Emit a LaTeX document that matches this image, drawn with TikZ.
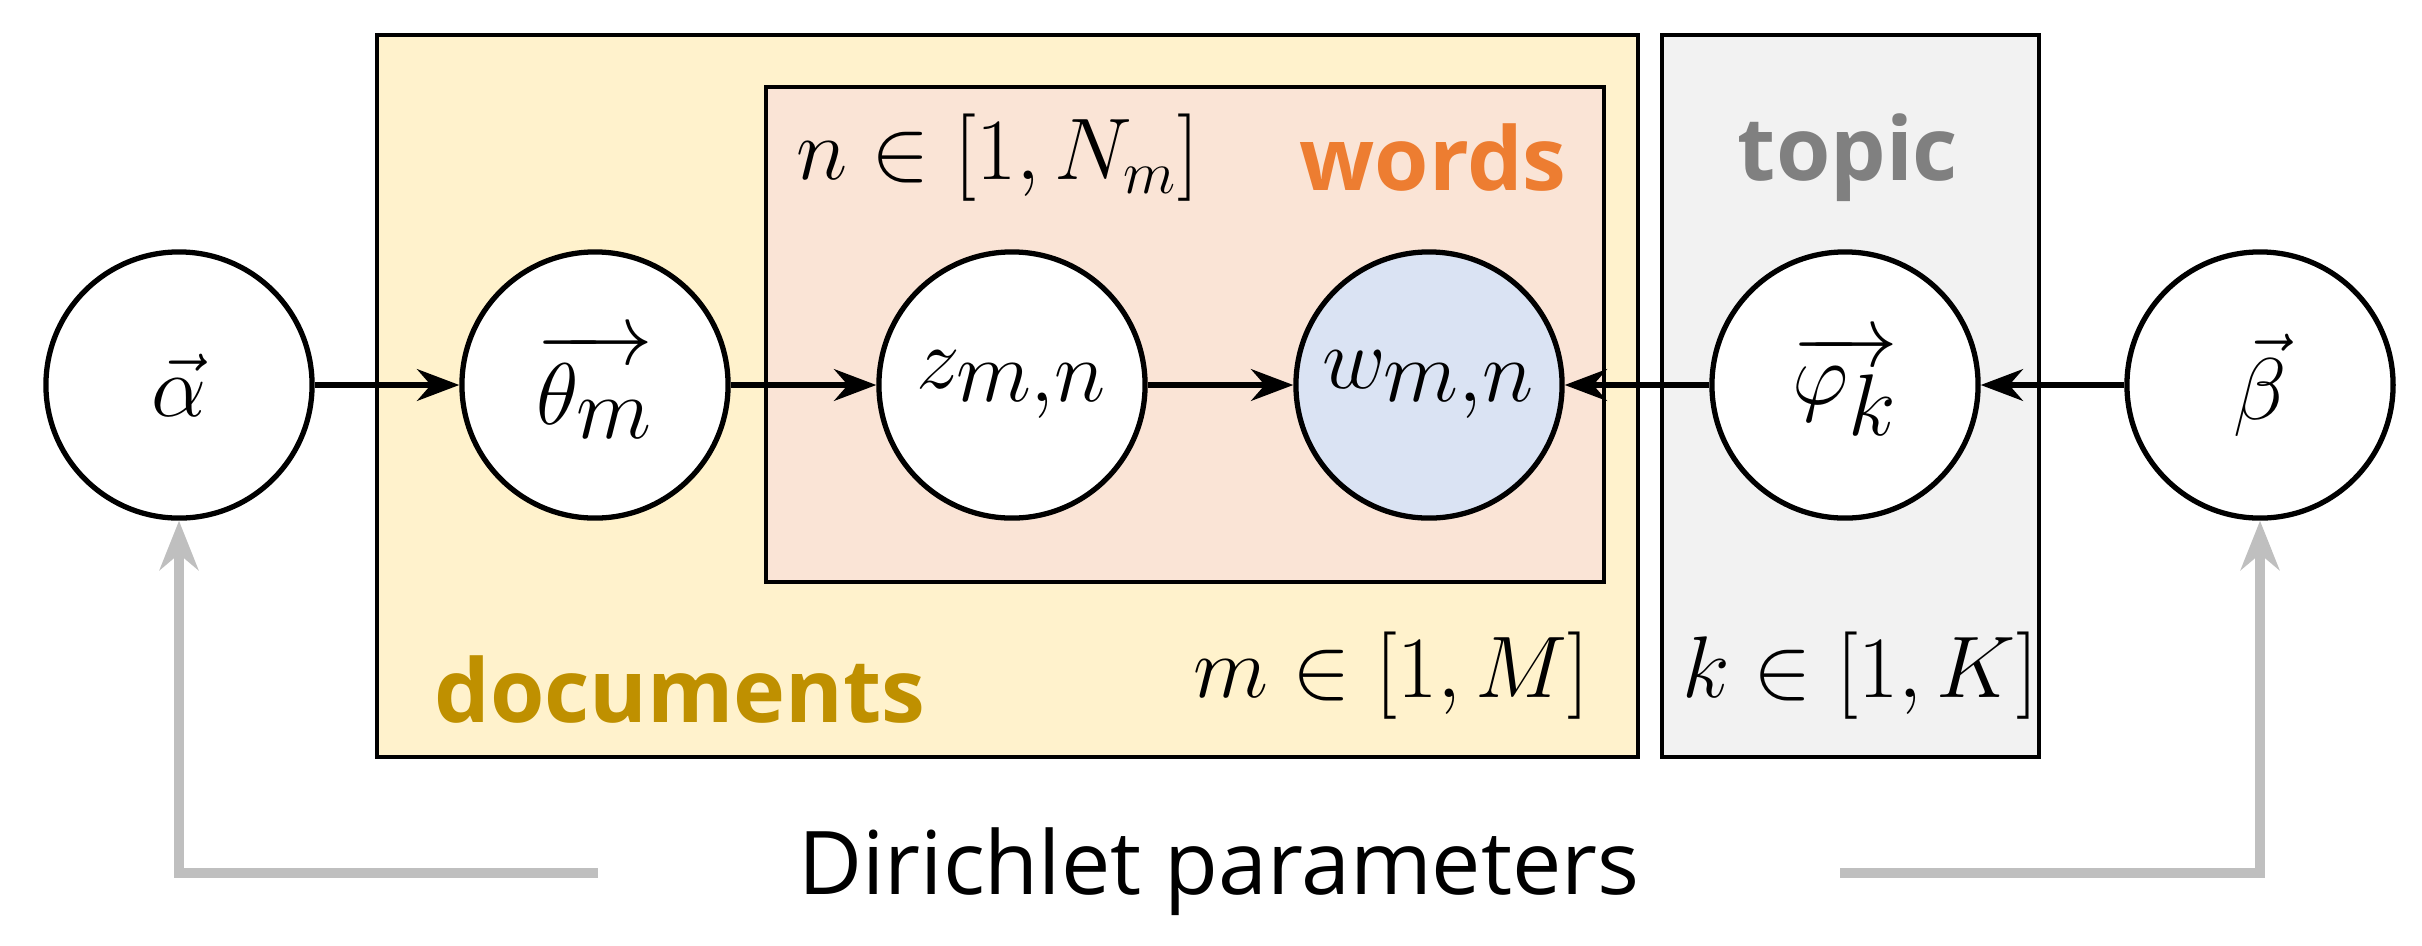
\documentclass[tikz,border=0pt]{standalone}
\usepackage{fontspec}
\setmainfont{Open Sans}
\usepackage{amsmath}
\usetikzlibrary{arrows.meta}
\definecolor{docfill}{RGB}{255,242,204}
\definecolor{wordfill}{RGB}{250,228,214}
\definecolor{topfill}{RGB}{242,242,242}
\definecolor{wfill}{RGB}{218,227,243}
\definecolor{docc}{RGB}{191,144,0}
\definecolor{wordc}{RGB}{237,125,49}
\definecolor{topc}{RGB}{128,128,128}
\definecolor{gline}{RGB}{191,191,191}
\begin{document}
\begin{tikzpicture}[x=0.01cm,y=-0.01cm,
  var/.style={circle,draw,line width=1.5pt,fill=white,minimum size=2.66cm,inner sep=0pt,font=\fontsize{34}{38}\selectfont},
  plate/.style={draw,line width=1.2pt},
  arr/.style={-{Stealth[length=12pt,width=9pt]},line width=1.6pt},
  garr/.style={-{Stealth[length=14pt,width=11pt]},line width=2.6pt,gline},
  lbl/.style={font=\fontsize{25}{30}\selectfont\bfseries},
  mth/.style={font=\fontsize{27}{32}\selectfont}]
\useasboundingbox (0,0) rectangle (2422,945);
\path[plate,fill=docfill] (377,35) rectangle (1638,757);
\path[plate,fill=topfill] (1662,35) rectangle (2039,757);
\path[plate,fill=wordfill] (766,87) rectangle (1604,582);
\node[var] (a) at (179,385) {$\vec{\alpha}$};
\node[var] (t) at (595,385) {$\overrightarrow{\theta_m}$};
\node[var] (z) at (1012,385) {$z_{m,n}$};
\node[var,fill=wfill] (w) at (1429,385) {$w_{m,n}$};
\node[var] (p) at (1845,385) {$\overrightarrow{\varphi_k}$};
\node[var] (b) at (2260,385) {$\vec{\beta}$};
\draw[arr] (a) -- (t);
\draw[arr] (t) -- (z);
\draw[arr] (z) -- (w);
\draw[arr] (p) -- (w);
\draw[arr] (b) -- (p);
\node[mth,anchor=west] (nl) at (784,158) {$n\in[1,N_m]$};
\node[lbl,text=wordc] (wl) at (1433,158) {words};
\node[lbl,text=topc] (tl) at (1848,158) {topic};
\node[mth,anchor=east] (ml) at (1602,676) {$m\in[1,M]$};
\node[mth] (kl) at (1860,676) {$k\in[1,K]$};
\node[lbl,text=docc,anchor=west] (dl) at (422,690) {documents};
\node[font=\fontsize{25}{30}\selectfont] (dp) at (1219,872) {Dirichlet parameters};
\coordinate (lc) at (179,873);
\coordinate (le) at (598,873);
\coordinate (rc) at (2260,873);
\coordinate (re) at (1840,873);
\draw[garr] (le) -- (lc) -- (a);
\draw[garr] (re) -- (rc) -- (b);
\end{tikzpicture}
\end{document}
